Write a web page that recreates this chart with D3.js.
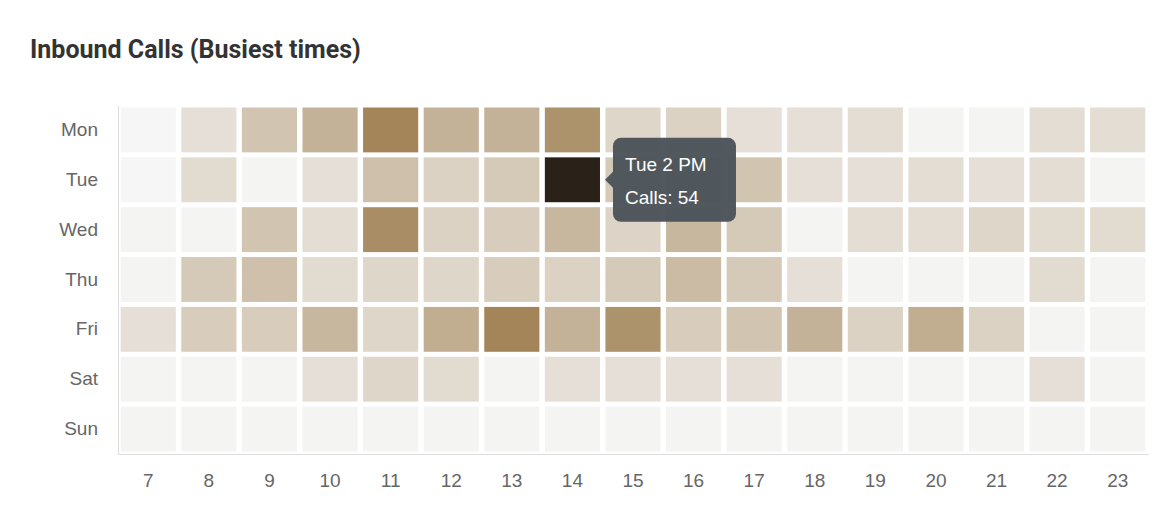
<!DOCTYPE html>
<html><head><meta charset="utf-8">
<script src="https://cdn.jsdelivr.net/npm/d3@7"></script>
<style>
body{margin:0;background:#fff;font-family:"Helvetica Neue",Arial,"Liberation Sans",sans-serif;}
#chart{position:relative;width:1170px;height:522px;}
</style></head><body>
<div id="chart"></div>
<script>
const days = ["Mon","Tue","Wed","Thu","Fri","Sat","Sun"];
const hours = [7,8,9,10,11,12,13,14,15,16,17,18,19,20,21,22,23];
// calls per day, one value per hour 7..23
const mon = [0,10,22,30,50,30,30,44,14,16,10,10,11,1,1,11,11];
const tue = [0,12,1,10,24,16,20,54,20,26,22,10,10,11,10,11,1];
const wed = [1,1,22,11,46,16,18,28,15,28,20,1,11,11,14,12,12];
const thu = [1,20,24,12,14,14,18,16,20,26,20,10,1,1,1,12,1];
const fri = [10,18,18,28,14,32,50,30,44,18,22,30,16,32,16,1,1];
const sat = [1,1,1,10,14,12,1,10,10,10,10,1,1,1,1,10,1];
const sun = [1,1,1,1,1,1,1,1,1,1,1,1,1,1,1,1,1];
const rows = [mon,tue,wed,thu,fri,sat,sun];
const hovered = {day:"Tue", hour:14};

const cells = [];
rows.forEach((r,i) => r.forEach((v,j) => cells.push({day:days[i], hour:hours[j], value:v})));

const W = 1170, H = 522;
const mLeft = 118, mRight = 1148, mTop = 105, mBottom = 454;

const svg = d3.select("#chart").append("svg").attr("width",W).attr("height",H);

svg.append("text").attr("x",30).attr("y",58)
  .style("font-family","Roboto").style("font-weight","700").style("font-size","25px")
  .attr("fill","#333").text("Inbound Calls (Busiest times)");

const x = d3.scaleBand().domain(hours).range([mLeft,mRight]).paddingInner(0.09).paddingOuter(0.045);
const y = d3.scaleBand().domain(days).range([mTop,mBottom]).paddingInner(0.1).paddingOuter(0.05);
const color = d3.scaleLinear().domain([0,54]).range(["#f6f6f6","#9c7c4c"]);

svg.selectAll("rect.cell").data(cells).enter().append("rect")
  .attr("x",d=>x(d.hour)).attr("y",d=>y(d.day))
  .attr("width",x.bandwidth()).attr("height",y.bandwidth())
  .attr("fill",d=> (d.day===hovered.day && d.hour===hovered.hour) ? "#2a2118" : color(d.value));

const xa = svg.append("g").attr("transform",`translate(0,${mBottom})`)
  .call(d3.axisBottom(x).tickSize(0).tickPadding(20));
const ya = svg.append("g").attr("transform",`translate(${mLeft},0)`)
  .call(d3.axisLeft(y).tickSize(0).tickPadding(20));
[xa,ya].forEach(a=>{
  a.select(".domain").attr("stroke","#ddd");
  a.selectAll("text").attr("fill","#666").style("font-size","19px").style("font-family","'Helvetica Neue',Arial,'Liberation Sans',sans-serif");
});

// tooltip
const hv = cells.find(d=>d.day===hovered.day && d.hour===hovered.hour);
const tx = x(hv.hour)+x.bandwidth()+13, ty = y(hv.day)+y.bandwidth()/2;
const tip = svg.append("g").attr("transform",`translate(${tx},${ty})`);
tip.append("path").attr("d","M0,-8 L-8,0 L0,8 Z").attr("fill","#4b545a").attr("opacity",0.97);
tip.append("rect").attr("x",0).attr("y",-42).attr("width",123).attr("height",84).attr("rx",8)
  .attr("fill","#4b545a").attr("opacity",0.97);
tip.append("text").attr("x",12).attr("y",-9).attr("fill","#fff").style("font-size","19px")
  .text(`${hv.day} ${hv.hour>12?hv.hour-12:hv.hour} PM`);
tip.append("text").attr("x",12).attr("y",24).attr("fill","#fff").style("font-size","19px")
  .text(`Calls: ${hv.value}`);
</script>
</body></html>
